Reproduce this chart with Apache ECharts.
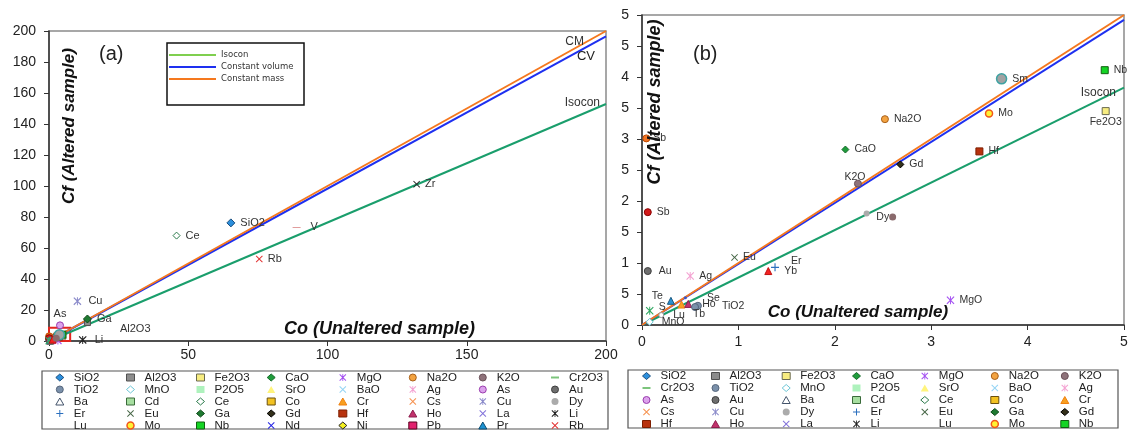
<!DOCTYPE html>
<html>
<head>
<meta charset="utf-8">
<title>Isocon diagrams</title>
<script src="https://cdn.jsdelivr.net/npm/echarts@6/dist/echarts.min.js"></script>
<style>
  html, body { margin: 0; padding: 0; background: #fff; }
  #chart { width: 1129px; height: 430px; }
</style>
</head>
<body>
<div id="chart"></div>
<script>
// Reference lines through the origin, [Co, Cf]
const cmLineA = [[0, 0], [200, 200]];
const cvLineA = [[0, 0], [200, 196.6]];
const isoLineA = [[0, 0], [200, 152.9]];
const cmLineB = [[0, 0], [5, 5.0]];
const cvLineB = [[0, 0], [5, 4.92]];
const isoLineB = [[0, 0], [5, 3.83]];

// zoom box drawn on panel (a), in data units
const zoomBoxA = [[-0.4, -1], [7.6, 8.6]];

// Points: [style key, Co, Cf, label]
const pointsA = [
  ['SiO2', 65.3, 76.2, 'SiO2'],
  ['Ce', 45.8, 68.0, 'Ce'],
  ['V', 88.9, 73.4, 'V'],
  ['Rb', 75.5, 52.9, 'Rb'],
  ['Zr', 132.0, 101.2, 'Zr'],
  ['Cu', 10.2, 25.7, 'Cu'],
  ['As', 3.95, 10.1, 'As'],
  ['Ga', 13.8, 14.2, 'Ga'],
  ['Al2O3', 13.8, 11.9, 'Al2O3'],
  ['Li', 12.1, 0.7, 'Li'],
];

const pointsB = [
  ['Sb', 0.045, 3.01, 'Sb'],
  ['Sb2', 0.06, 1.82, 'Sb'],
  ['Au', 0.06, 0.87, 'Au'],
  ['Ag', 0.5, 0.79, 'Ag'],
  ['Eu', 0.96, 1.09, 'Eu'],
  ['Yb', 1.31, 0.87, 'Yb'],
  ['Er', 1.38, 0.93, 'Er'],
  ['Te', 0.30, 0.39, 'Te'],
  ['Cr', 0.41, 0.33, ''],
  ['Ho', 0.48, 0.34, 'Ho'],
  ['Tb', 0.55, 0.29, 'Tb'],
  ['TiO2', 0.58, 0.31, 'TiO2'],
  ['Se', 0.45, 0.44, 'Se'],
  ['S', 0.08, 0.23, 'S'],
  ['Lu', 0.20, 0.16, 'Lu'],
  ['MnO', 0.08, 0.05, 'MnO'],
  ['K2O', 2.24, 2.28, 'K2O'],
  ['Dy', 2.33, 1.80, ''],
  ['Dy2', 2.60, 1.74, 'Dy'],
  ['MgO', 3.20, 0.40, 'MgO'],
  ['CaO', 2.11, 2.83, 'CaO'],
  ['Gd', 2.68, 2.59, 'Gd'],
  ['Na2O', 2.52, 3.32, 'Na2O'],
  ['Sm', 3.73, 3.97, 'Sm'],
  ['Mo', 3.60, 3.41, 'Mo'],
  ['Hf', 3.50, 2.80, 'Hf'],
  ['Nb', 4.80, 4.11, 'Nb'],
  ['Fe2O3', 4.81, 3.45, 'Fe2O3'],
];

// Legend tables, row by row as printed
const legendRowsA = [
  ['SiO2', 'Al2O3', 'Fe2O3', 'CaO', 'MgO', 'Na2O', 'K2O', 'Cr2O3'],
  ['TiO2', 'MnO', 'P2O5', 'SrO', 'BaO', 'Ag', 'As', 'Au'],
  ['Ba', 'Cd', 'Ce', 'Co', 'Cr', 'Cs', 'Cu', 'Dy'],
  ['Er', 'Eu', 'Ga', 'Gd', 'Hf', 'Ho', 'La', 'Li'],
  ['Lu', 'Mo', 'Nb', 'Nd', 'Ni', 'Pb', 'Pr', 'Rb'],
];
const legendRowsB = [
  ['SiO2', 'Al2O3', 'Fe2O3', 'CaO', 'MgO', 'Na2O', 'K2O'],
  ['Cr2O3', 'TiO2', 'MnO', 'P2O5', 'SrO', 'BaO', 'Ag'],
  ['As', 'Au', 'Ba', 'Cd', 'Ce', 'Co', 'Cr'],
  ['Cs', 'Cu', 'Dy', 'Er', 'Eu', 'Ga', 'Gd'],
  ['Hf', 'Ho', 'La', 'Li', 'Lu', 'Mo', 'Nb'],
];

// Marker shapes
const X = 'path://M1,0L5,4L9,0L10,1L6,5L10,9L9,10L5,6L1,10L0,9L4,5L0,1Z';
const PLUS = 'path://M4.3,0H5.7V4.3H10V5.7H5.7V10H4.3V5.7H0V4.3H4.3Z';
const STAR = 'path://M1,0L5,4L9,0L10,1L6,5L10,9L9,10L5,6L1,10L0,9L4,5L0,1ZM4.4,0H5.6V10H4.4Z';
const DASH = 'path://M0,0H10V2.5H0Z';

const styles = {
  SiO2: { symbol: 'diamond', fill: '#2c8fdc', stroke: '#1b4f80', size: 8 },
  Al2O3: { symbol: 'rect', fill: '#8c8c8c', stroke: '#505050', size: 6 },
  Fe2O3: { symbol: 'rect', fill: '#f7ec80', stroke: '#6a6a50', size: 7 },
  CaO: { symbol: 'diamond', fill: '#1f9c3c', stroke: '#156a28', size: 7 },
  MgO: { symbol: STAR, fill: '#a552f2', size: 8 },
  Na2O: { symbol: 'circle', fill: '#f3a341', stroke: '#a8601a', size: 7 },
  K2O: { symbol: 'circle', fill: '#8e727a', stroke: '#6a5058', size: 7 },
  Cr2O3: { symbol: DASH, fill: '#7cc47c', size: [7, 2] },
  TiO2: { symbol: 'circle', fill: '#7a90aa', stroke: '#56667c', size: 7 },
  MnO: { symbol: 'diamond', fill: '#ffffff', stroke: '#6cc6d6', size: 7 },
  P2O5: { symbol: 'rect', fill: '#aef2bd', size: 7 },
  SrO: { symbol: 'triangle', fill: '#fff47c', size: 7 },
  BaO: { symbol: X, fill: '#94d4f4', size: 7 },
  Ag: { symbol: STAR, fill: '#f4a2d2', size: 8 },
  As: { symbol: 'circle', fill: '#dca2ec', stroke: '#9a3cae', size: 7 },
  Au: { symbol: 'circle', fill: '#6e6e6e', stroke: '#3e3e3e', size: 7 },
  Ba: { symbol: 'triangle', fill: '#ffffff', stroke: '#43536a', size: 7 },
  Cd: { symbol: 'rect', fill: '#a6dea0', stroke: '#3a6a3a', size: 6 },
  Ce: { symbol: 'diamond', fill: '#ffffff', stroke: '#2a7a4a', size: 7 },
  Co: { symbol: 'rect', fill: '#f2c222', stroke: '#6a5010', size: 7 },
  Cr: { symbol: 'triangle', fill: '#f8a020', stroke: '#f08010', size: 7 },
  Cs: { symbol: X, fill: '#f6914e', size: 7 },
  Cu: { symbol: STAR, fill: '#8a8aca', size: 8 },
  Dy: { symbol: 'circle', fill: '#ababab', size: 6 },
  Er: { symbol: PLUS, fill: '#2a6fbe', size: 8 },
  Eu: { symbol: X, fill: '#466646', size: 7 },
  Ga: { symbol: 'diamond', fill: '#1f7a31', stroke: '#0e4a1a', size: 8 },
  Gd: { symbol: 'diamond', fill: '#33301a', stroke: '#000000', size: 7 },
  Hf: { symbol: 'rect', fill: '#b8320e', stroke: '#7e1e00', size: 7 },
  Ho: { symbol: 'triangle', fill: '#c2326c', stroke: '#8e1e4e', size: 7 },
  La: { symbol: X, fill: '#8272da', size: 7 },
  Li: { symbol: STAR, fill: '#222222', size: 8 },
  Lu: { symbol: 'circle', fill: '#ffffff', stroke: '#999999', size: 5 },
  Mo: { symbol: 'circle', fill: '#fff234', stroke: '#f2561a', size: 7, bw: 1.5 },
  Nb: { symbol: 'rect', fill: '#14d424', stroke: '#106010', size: 7 },
  Nd: { symbol: X, fill: '#2424e4', size: 7 },
  Ni: { symbol: 'diamond', fill: '#f4f020', stroke: '#222222', size: 7 },
  Pb: { symbol: 'rect', fill: '#e2226e', stroke: '#5e0020', size: 7 },
  Pr: { symbol: 'triangle', fill: '#1c92d2', stroke: '#0a4a70', size: 7 },
  Rb: { symbol: X, fill: '#e23232', size: 7 },
  // not in the legend tables
  Sb: { symbol: 'circle', fill: '#f07424', stroke: '#c04a00', size: 7 },
  Sb2: { symbol: 'circle', fill: '#d21a1a', stroke: '#8a0000', size: 7 },
  Sm: { symbol: 'circle', fill: '#a2a2a2', stroke: '#3ea2a2', size: 10, bw: 1.5 },
  Te: { symbol: 'triangle', fill: '#2a92d2', stroke: '#1a5a82', size: 7 },
  Tb: { symbol: 'circle', fill: '#7a90aa', stroke: '#56667c', size: 7 },
  Se: { symbol: 'circle', fill: '#3a56c8', size: 3 },
  S: { symbol: STAR, fill: '#30a862', size: 8 },
  Yb: { symbol: 'triangle', fill: '#f22222', stroke: '#c01010', size: 7 },
  Dy2: { symbol: 'circle', fill: '#8a6a6c', size: 7 },
  V: { symbol: DASH, fill: '#c03434', size: [8, 2] },
  Zr: { symbol: X, fill: '#2a2a2a', size: 7 },
};

// label placement tweaks, by style key
const placeA = {
  V: { distance: 10 },
  Cu: { distance: 7 },
  As: { position: 'top', distance: 2 },
  Al2O3: { offset: [24, 6] },
  Li: { distance: 8 },
};
const placeB = {
  Sb: { distance: 3 },
  Au: { distance: 7 },
  Yb: { distance: 12 },
  Er: { distance: 12, offset: [0, -6] },
  Te: { position: 'left', distance: 4, offset: [0, -5] },
  Ho: { distance: 10 },
  Tb: { position: 'bottom', distance: 0, offset: [4, -2] },
  TiO2: { distance: 20 },
  Se: { distance: 20 },
  S: { distance: 5, offset: [0, -4] },
  Lu: { distance: 9 },
  MnO: { distance: 8 },
  K2O: { position: 'inside', offset: [-3, -7] },
  Dy2: { position: 'left', distance: 0 },
  Fe2O3: { position: 'bottom', distance: 2 },
};

const FONT = 'Liberation Sans, Arial, sans-serif';

const pointSeries = (points, axis, place, withLabels, fontSize) =>
  Object.keys(styles).map(key => {
    const st = styles[key];
    return {
      type: 'scatter',
      name: key,
      xAxisIndex: axis,
      yAxisIndex: axis,
      symbol: st.symbol,
      symbolSize: st.size,
      symbolKeepAspect: true,
      z: 3,
      silent: true,
      itemStyle: {
        color: st.fill,
        borderColor: st.stroke || st.fill,
        borderWidth: st.bw != null ? st.bw : (st.stroke ? 1 : 0),
        opacity: 1,
      },
      label: {
        show: withLabels,
        position: 'right',
        distance: 5,
        color: '#333',
        fontSize,
        fontFamily: FONT,
        formatter: p => p.data.text || '',
      },
      data: points
        .filter(p => p[0] === key)
        .map(p => ({ value: [p[1], p[2]], text: p[3], label: place[key] || {} })),
    };
  });

const lineSeries = (name, data, axis, color, endLabel, extra) => Object.assign({
  type: 'line',
  name,
  xAxisIndex: axis,
  yAxisIndex: axis,
  data,
  symbol: 'none',
  silent: true,
  z: 2,
  lineStyle: { color, width: 2 },
  itemStyle: { color },
  endLabel: endLabel ? Object.assign({
    show: true,
    color: '#333',
    fontSize: 12,
    fontFamily: FONT,
    align: 'right',
  }, endLabel) : { show: false },
}, extra || {});

// legend column blocks built from the row tables
const toColumns = rows => rows[0].map((_, c) => rows.map(r => r[c]));
const legendItem = name => (name === 'Lu' ? { name, icon: 'none' } : name);
const legendBlock = (col, left, top, lineHeight) => ({
  orient: 'vertical',
  left,
  top,
  height: 80,
  padding: 0,
  itemGap: 0,
  itemWidth: 8,
  itemHeight: 7,
  selectedMode: false,
  itemStyle: { borderWidth: 'inherit' },
  textStyle: { fontSize: 11.5, fontFamily: FONT, color: '#222', lineHeight, padding: [0, 0, 0, 5] },
  data: col.map(legendItem),
});

const colCentersA = [59.3, 130, 200, 270.7, 342.3, 412.3, 482.3, 555];
const colCentersB = [646, 715, 785.7, 856, 924.3, 994.3, 1064.3];

const legends = [
  {
    orient: 'vertical',
    left: 168,
    top: 49,
    padding: 0,
    itemGap: 0,
    itemWidth: 47,
    itemHeight: 8,
    selectedMode: false,
    // hide the marker the line legend icon puts in the middle
    itemStyle: { color: 'rgba(0,0,0,0)', borderWidth: 0, opacity: 0 },
    textStyle: { fontSize: 8.5, fontFamily: 'DejaVu Sans, sans-serif', color: '#333', lineHeight: 12 },
    data: [
      { name: 'Isocon', lineStyle: { color: '#7fcf4f' } },
      'Constant volume',
      'Constant mass',
    ],
  },
  ...toColumns(legendRowsA).map((col, i) => legendBlock(col, colCentersA[i] - 4, 371.5, 11.5)),
  ...toColumns(legendRowsB).map((col, i) => legendBlock(col, colCentersB[i] - 4, 370, 11.8)),
];

const axisCommon = {
  type: 'value',
  splitLine: { show: false },
  axisLine: { show: true, onZero: false, lineStyle: { color: '#333', width: 1.5 } },
  axisTick: { show: true, inside: false, length: 5, lineStyle: { color: '#333' } },
};

const boldItalic = size => ({ fontSize: size, fontWeight: 'bold', fontStyle: 'italic', fontFamily: FONT, fill: '#111' });

const option = {
  animation: false,
  backgroundColor: '#fff',
  grid: [
    { left: 49, right: 523, top: 31, bottom: 89, show: true, borderColor: '#8a8a8a', borderWidth: 1.5, outerBoundsMode: 'none' },
    { left: 642, right: 5, top: 15, bottom: 105, show: true, borderColor: '#8a8a8a', borderWidth: 1.5, outerBoundsMode: 'none' },
  ],
  xAxis: [
    Object.assign({}, axisCommon, {
      gridIndex: 0, min: 0, max: 200, interval: 50,
      axisLabel: { fontSize: 14, color: '#222', margin: 7, fontFamily: FONT },
    }),
    Object.assign({}, axisCommon, {
      gridIndex: 1, min: 0, max: 5, interval: 1,
      axisLabel: { fontSize: 14, color: '#222', margin: 10, fontFamily: FONT },
    }),
  ],
  yAxis: [
    Object.assign({}, axisCommon, {
      gridIndex: 0, min: 0, max: 200, interval: 20,
      axisLabel: { fontSize: 14, color: '#222', margin: 13, fontFamily: FONT },
    }),
    Object.assign({}, axisCommon, {
      gridIndex: 1, min: 0, max: 5, interval: 0.5,
      // the printed labels are cut at the panel edge, only the last digit shows
      axisLabel: { fontSize: 14, color: '#222', margin: 13, fontFamily: FONT, formatter: v => String(v).slice(-1) },
    }),
  ],
  legend: legends,
  graphic: [
    { type: 'rect', z: 0, shape: { x: 42, y: 371, width: 566, height: 58 }, style: { fill: '#fff', stroke: '#555', lineWidth: 1.2 } },
    { type: 'rect', z: 0, shape: { x: 628, y: 370, width: 490, height: 58 }, style: { fill: '#fff', stroke: '#555', lineWidth: 1.2 } },
    { type: 'rect', z: 1, shape: { x: 167, y: 43, width: 137, height: 62 }, style: { fill: '#fff', stroke: '#111', lineWidth: 1.5 } },
    { type: 'text', z: 6, x: 99, y: 44, style: { text: '(a)', fontSize: 20, fontFamily: FONT, fill: '#222' } },
    { type: 'text', z: 6, x: 693, y: 44, style: { text: '(b)', fontSize: 20, fontFamily: FONT, fill: '#222' } },
    { type: 'text', z: 6, x: 69, y: 126, rotation: Math.PI / 2,
      style: Object.assign({ text: 'Cf (Altered sample)', align: 'center', verticalAlign: 'middle' }, boldItalic(17)) },
    { type: 'text', z: 6, x: 655, y: 102, rotation: Math.PI / 2,
      style: Object.assign({ text: 'Cf (Altered sample)', align: 'center', verticalAlign: 'middle' }, boldItalic(18)) },
    { type: 'text', z: 6, x: 379.5, y: 329,
      style: Object.assign({ text: 'Co (Unaltered sample)', align: 'center', verticalAlign: 'middle' }, boldItalic(18)) },
    { type: 'text', z: 6, x: 858, y: 312,
      style: Object.assign({ text: 'Co (Unaltered sample)', align: 'center', verticalAlign: 'middle' }, boldItalic(17)) },
  ],
  series: [
    lineSeries('Isocon', isoLineA, 0, '#1a9e6c', { formatter: 'Isocon', offset: [-14, -1] }, {
      markArea: {
        silent: true,
        itemStyle: { color: 'rgba(0,0,0,0)', borderColor: '#e3261f', borderWidth: 2 },
        data: [[{ coord: zoomBoxA[0] }, { coord: zoomBoxA[1] }]],
      },
    }),
    lineSeries('Constant volume', cvLineA, 0, '#1e30f0', { formatter: 'CV', offset: [-19, 20], fontSize: 13, color: '#222' }),
    lineSeries('Constant mass', cmLineA, 0, '#f5781e', { formatter: 'CM', offset: [-30, 11] }),
    lineSeries('Isocon', isoLineB, 1, '#1a9e6c', { formatter: 'Isocon', offset: [-16, 5] }),
    lineSeries('Constant volume', cvLineB, 1, '#1e30f0', null),
    lineSeries('Constant mass', cmLineB, 1, '#f5781e', null),
    ...pointSeries(pointsA, 0, placeA, true, 11),
    // panel (b) is the enlarged origin of panel (a)
    ...pointSeries(pointsB, 0, {}, false, 11),
    ...pointSeries(pointsB, 1, placeB, true, 10.5),
  ],
};

const chart = echarts.init(document.getElementById('chart'));
chart.setOption(option);
window.addEventListener('resize', () => chart.resize());
</script>
</body>
</html>
